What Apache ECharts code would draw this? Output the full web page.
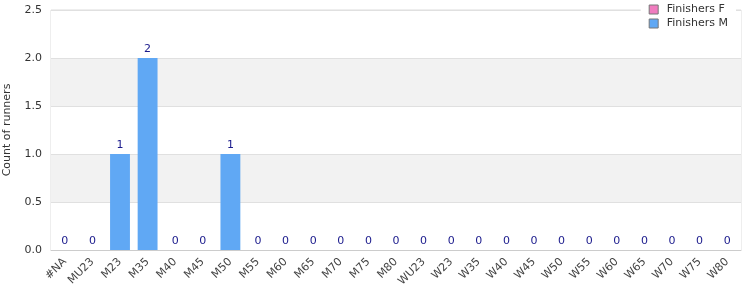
<!DOCTYPE html>
<html><head><meta charset="utf-8">
<script src="https://cdn.jsdelivr.net/npm/echarts@6/dist/echarts.min.js"></script>
<style>html,body{margin:0;padding:0;background:#fff}#c{width:750px;height:300px}</style>
</head><body><div id="c"></div>
<script>
const categories = ['#NA','MU23','M23','M35','M40','M45','M50','M55','M60','M65','M70','M75','M80','WU23','W23','W35','W40','W45','W50','W55','W60','W65','W70','W75','W80'];
const finishersF = [0,0,0,0,0,0,0,0,0,0,0,0,0,0,0,0,0,0,0,0,0,0,0,0,0];
const finishersM = [0,0,1,2,0,0,1,0,0,0,0,0,0,0,0,0,0,0,0,0,0,0,0,0,0];
const yTicks = [0, 0.5, 1.0, 1.5, 2.0, 2.5];

const chart = echarts.init(document.getElementById('c'), null, {renderer:'canvas'});
chart.setOption({
  animation:false,
  textStyle:{fontFamily:'DejaVu Sans'},
  legend:{
    right:14, top:1, orient:'vertical', itemWidth:16, itemHeight:9, itemGap:3,
    icon:'path://M0,0H10V10H0Z', symbolKeepAspect:true,
    backgroundColor:'#fff', padding:[3,8,3,8],
    textStyle:{fontSize:11, color:'#333', fontFamily:'DejaVu Sans'},
    data:[{name:'Finishers F', itemStyle:{borderColor:'#777',borderWidth:1}},{name:'Finishers M', itemStyle:{borderColor:'#777',borderWidth:1}}]
  },
  grid:{left:51, right:9, top:10, bottom:50, outerBoundsMode:'none', containLabel:false, show:true, borderColor:'#ddd', borderWidth:1},
  xAxis:{
    type:'category', data:categories,
    axisLine:{lineStyle:{color:'#ccc'}}, axisTick:{show:false},
    axisLabel:{rotate:45, interval:0, fontSize:11, color:'#444', margin:10, fontFamily:'DejaVu Sans'}
  },
  yAxis:{
    type:'value', min:yTicks[0], max:yTicks[yTicks.length-1], interval:0.5,
    name:'Count of runners', nameLocation:'middle', nameGap:38,
    nameTextStyle:{fontSize:11, color:'#333'},
    axisLine:{show:false}, axisTick:{show:false},
    axisLabel:{fontSize:11, color:'#333', formatter:v=>v.toFixed(1), margin:9},
    splitLine:{lineStyle:{color:'#e0e0e0'}},
    splitArea:{show:true, areaStyle:{color:['#ffffff','#f2f2f2']}}
  },
  series:[
    {name:'Finishers F', type:'bar', stack:'a', data:finishersF, itemStyle:{color:'#f07cbf'}, barWidth:'72%'},
    {name:'Finishers M', type:'bar', stack:'a', data:finishersM, itemStyle:{color:'#60a8f4'}, barWidth:'72%',
     label:{show:true, position:'top', color:'#1a1a8c', fontSize:11, distance:3}}
  ]
});
</script></body></html>
